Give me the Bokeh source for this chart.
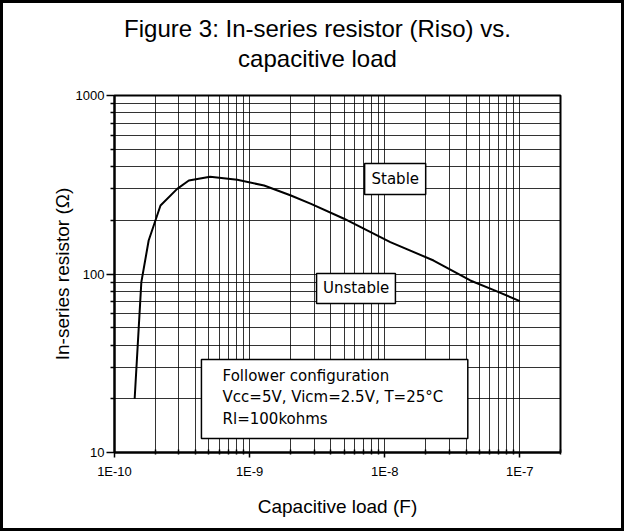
from bokeh.plotting import figure
from bokeh.embed import file_html
from bokeh.resources import INLINE
from bokeh.models import (FixedTicker, CustomJSTickFormatter, Label, LogAxis)

# ---- data ----
cap_load = [1.41e-10, 1.58e-10, 1.79e-10, 2.19e-10, 2.91e-10, 3.55e-10, 5.1e-10,
            8.1e-10, 1.28e-9, 2.0e-9, 2.85e-9, 5.0e-9, 1.1e-8, 2.3e-8, 4.3e-8,
            6.5e-8, 1.0e-7]
riso = [20, 90, 154, 242, 300, 334, 351, 337, 313, 276, 247, 204, 151, 119, 92,
        81, 70.5]

x_major = [1e-10, 1e-9, 1e-8, 1e-7]
y_major = [10, 100, 1000]
x_minor = [m * d for d in [1e-10, 1e-9, 1e-8, 1e-7] for m in range(2, 10) if m * d <= 2e-7]
y_minor = [m * d for d in [10, 100] for m in range(2, 10)]

title_lines = ["Figure 3: In-series resistor (Riso) vs.", "capacitive load"]
title_x = 3.18e-9   # x (in F) above which the title is centred
stable_txt = "Stable"
unstable_txt = "Unstable"
note_lines = ["Follower configuration", "Vcc=5V, Vicm=2.5V, T=25°C", "Rl=100kohms"]

B = 3  # outer border width (css)
W, H = 624, 531
p = figure(width=W, height=H, x_axis_type="log", y_axis_type="log",
           x_range=(1e-10, 2e-7), y_range=(10, 1000),
           output_backend="svg", toolbar_location=None,
           min_border_left=114 - B, min_border_right=W + B - 560,
           min_border_top=95 - B, min_border_bottom=H + B - 452)
p.styles = {"border": f"{B}px solid black"}
p.background_fill_color = "white"
p.border_fill_color = "white"
p.outline_line_color = "black"
p.outline_line_width = 2

xa = p.below[0]
ya = p.left[0]

# axes
xa.ticker = FixedTicker(ticks=x_major, minor_ticks=x_minor)
ya.ticker = FixedTicker(ticks=y_major, minor_ticks=y_minor)
xa.formatter = CustomJSTickFormatter(code="return '1E' + Math.round(Math.log10(tick));")
ya.formatter = CustomJSTickFormatter(code="return String(Math.round(tick));")
for ax in (xa, ya):
    ax.axis_line_color = "black"
    ax.axis_line_width = 2
    ax.major_tick_line_color = "black"
    ax.minor_tick_line_color = "black"
    ax.major_tick_line_width = 1.5
    ax.minor_tick_line_width = 1.5
    ax.major_label_text_font = "Liberation Sans"
    ax.major_label_text_font_size = "13px"
    ax.major_label_text_color = "black"
    ax.axis_label_text_font = "Liberation Sans"
    ax.axis_label_text_font_size = "19px"
    ax.axis_label_text_font_style = "normal"
    ax.axis_label_text_color = "black"
xa.major_tick_out = 5
xa.major_tick_in = 0
xa.minor_tick_out = 2
xa.minor_tick_in = 3
xa.major_label_standoff = 6
xa.axis_label = "Capacitive load (F)"
xa.axis_label_standoff = 14
ya.major_tick_out = 8
ya.major_tick_in = 0
ya.minor_tick_out = 4
ya.minor_tick_in = 0
ya.major_label_standoff = 2
ya.axis_label = "In-series resistor (Ω)"
ya.axis_label_standoff = 0

# title: two text-only axes stacked above the frame
for line, standoff in [(title_lines[1], 24), (title_lines[0], 0)]:
    tax = LogAxis(ticker=FixedTicker(ticks=[title_x], minor_ticks=[]),
                  formatter=CustomJSTickFormatter(code=f"return {line!r};"),
                  axis_line_color=None, major_tick_line_color=None,
                  minor_tick_line_color=None, major_tick_in=0, major_tick_out=0,
                  minor_tick_in=0, minor_tick_out=0,
                  major_label_standoff=standoff,
                  major_label_text_font="Liberation Sans",
                  major_label_text_font_size="24px",
                  major_label_text_color="black")
    p.add_layout(tax, "above")

# grid
p.xgrid.ticker = xa.ticker
p.ygrid.ticker = ya.ticker
for g in (p.xgrid, p.ygrid):
    g.grid_line_color = "black"
    g.grid_line_alpha = 0.8
    g.grid_line_width = 1
    g.minor_grid_line_color = "black"
    g.minor_grid_line_alpha = 0.8
    g.minor_grid_line_width = 1

# curve
p.line(cap_load, riso, line_color="black", line_width=2)

# boxes
p.quad(left=[7.1e-9], right=[2.01e-8], bottom=[279], top=[416],
       fill_color="white", line_color="black", line_width=1.5)
p.quad(left=[3.13e-9], right=[1.2e-8], bottom=[68.4], top=[100.6],
       fill_color="white", line_color="black", line_width=1.5)
p.quad(left=[4.4e-10], right=[4.12e-8], bottom=[11.97], top=[33.2],
       fill_color="white", line_color="black", line_width=1.5)

def txt(x, y, s, align="center", size="15px", font="DejaVu Sans"):
    lab = Label(x=x, y=y, text=s, text_align=align, text_baseline="middle",
                text_font=font, text_font_size=size, text_color="black")
    p.add_layout(lab)

txt(1.197e-8, 340, stable_txt)
txt(6.15e-9, 83, unstable_txt)
for yy, s in zip([27.0, 20.4, 15.5], note_lines):
    txt(6.31e-10, yy, s, align="left")

open("out.html", "w").write(file_html(p, INLINE))
